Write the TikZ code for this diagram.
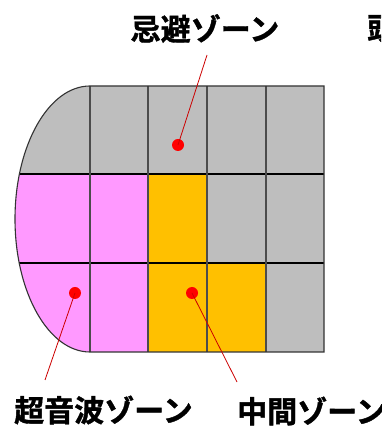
\documentclass[tikz,border=0pt]{standalone}
\usepackage{fontspec}
\newfontfamily\jpfont{Noto Sans CJK JP Bold}[FakeBold=1.3]
\begin{document}
\begin{tikzpicture}[x=1pt,y=1pt,
  lbl/.style={font=\jpfont\fontsize{30}{30}\selectfont, inner sep=0pt, text=black},
  dot/.style={circle, fill=red, inner sep=0pt, minimum size=12pt},
  leader/.style={draw=red!80!black, line width=0.8pt},
  vline/.style={draw=black!70, line width=1.4pt},
  hline/.style={draw=black, line width=1.8pt}]
\definecolor{zgray}{RGB}{190,190,190}
\definecolor{zpink}{RGB}{255,153,255}
\definecolor{zorange}{RGB}{255,192,0}
\useasboundingbox[fill=white] (0,0) rectangle (381,430);
% filled regions
\begin{scope}
  \clip (324,344) -- (90,344) arc[start angle=90,end angle=270,x radius=75pt,y radius=133pt] -- (324,78) -- cycle;
  \fill[zgray] (0,70) rectangle (330,350);
  \fill[zpink] (0,70) rectangle (148,256);
  \fill[zorange] (148,78) rectangle (207,256);
  \fill[zorange] (207,78) rectangle (266,167);
  \draw[hline] (0,256) -- (324,256);
  \draw[hline] (0,167) -- (324,167);
\end{scope}
\draw[vline] (90,344) -- (90,78);
\draw[vline] (148,344) -- (148,78);
\draw[vline] (207,344) -- (207,78);
\draw[vline] (266,344) -- (266,78);
\draw[draw=black!80, line width=1.1pt] (324,344) -- (90,344) arc[start angle=90,end angle=270,x radius=75pt,y radius=133pt] -- (324,78) -- cycle;
% dots
\node[dot] (d1) at (178,285) {};
\node[dot] (d2) at (75,137) {};
\node[dot] (d3) at (192,137) {};
% labels
\node[lbl] (l1) at (205,401.5) {忌避ゾーン};
\node[lbl, anchor=west] (l2) at (14,20) {超音波ゾーン};
\node[lbl, anchor=west] (l3) at (237,19) {中間ゾーン};
\begin{scope}
  \clip (0,0) rectangle (381,430);
  \node[lbl, anchor=west] (l4) at (367,401.5) {頭};
\end{scope}
% leaders
\coordinate (c1) at (207,375);
\coordinate (c2) at (45,50);
\coordinate (c3) at (237,48);
\draw[leader] (c1) -- (d1.center);
\draw[leader] (d2.center) -- (c2);
\draw[leader] (d3.center) -- (c3);
\end{tikzpicture}
\end{document}
